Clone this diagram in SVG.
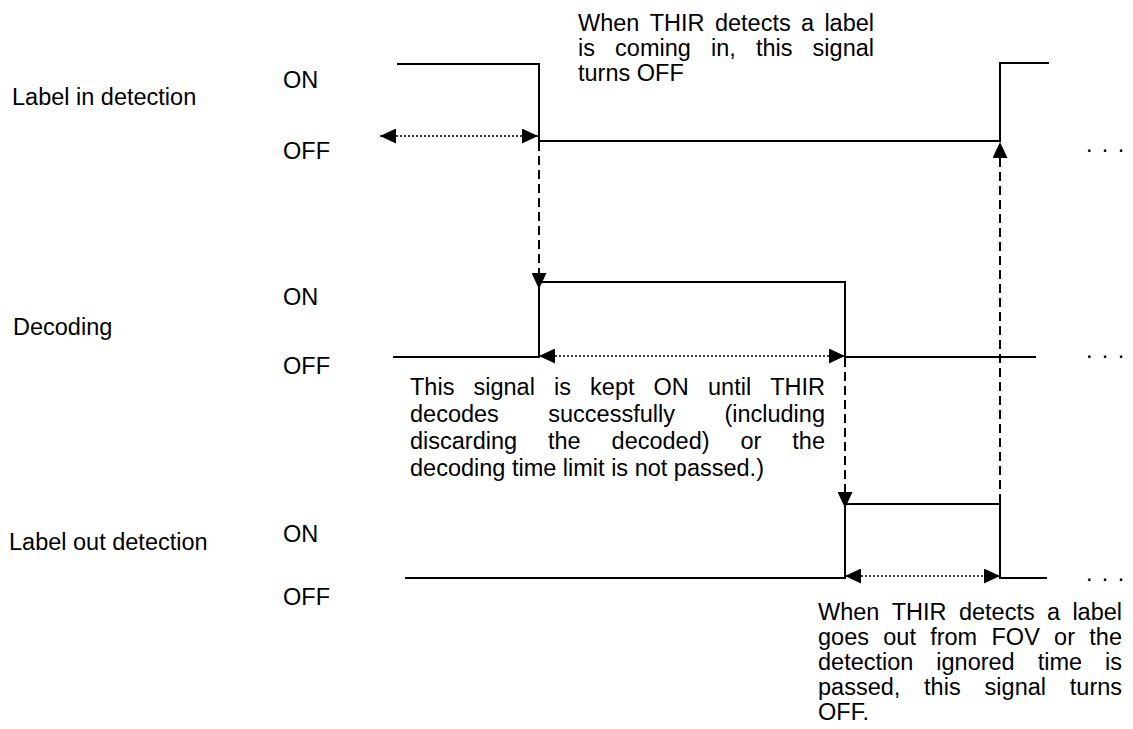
<svg xmlns="http://www.w3.org/2000/svg" width="1133" height="729" viewBox="0 0 1133 729">
<style>
text{font-family:"Liberation Sans",Arial,sans-serif;font-size:23.5px;fill:#000}
.sig{fill:none;stroke:#000;stroke-width:2}
.dash{fill:none;stroke:#000;stroke-width:2;stroke-dasharray:9 5}
.dot{fill:none;stroke:#000;stroke-width:1.5;stroke-dasharray:2 2}
.ell{letter-spacing:1.4px}
</style>
<defs>
<marker id="ah" markerUnits="userSpaceOnUse" markerWidth="16" markerHeight="15" refX="16" refY="7.5" orient="auto-start-reverse" viewBox="0 0 16 15">
<path d="M0,0 L16,7.5 L0,15 z" fill="#000"/>
</marker>
</defs>
<rect width="1133" height="729" fill="#fff"/>

<g id="label-in-detection">
<text x="12" y="105">Label in detection</text>
<text x="283" y="88">ON</text>
<text x="283" y="159">OFF</text>
<polyline class="sig" points="397,64 539,64 539,141 1000,141 1000,63 1049,63"/>
<text class="ell" x="1086" y="152">. . .</text>
</g>

<g id="decoding">
<text x="13" y="335">Decoding</text>
<text x="283" y="305">ON</text>
<text x="283" y="374">OFF</text>
<polyline class="sig" points="393,357 539,357 539,282 845,282 845,357 1036,357"/>
<text class="ell" x="1086" y="358">. . .</text>
</g>

<g id="label-out-detection">
<text x="9" y="550">Label out detection</text>
<text x="283" y="542">ON</text>
<text x="283" y="605">OFF</text>
<polyline class="sig" points="405,578 845,578 845,504 1000,504 1000,578 1047,578"/>
<text class="ell" x="1086" y="581">. . .</text>
</g>

<g id="note-in">
<text y="31"><tspan x="578">When</tspan><tspan x="649.7">THIR</tspan><tspan x="714.9">detects</tspan><tspan x="801">a</tspan><tspan x="824.4">label</tspan></text>
<text y="56"><tspan x="578">is</tspan><tspan x="615.1">coming</tspan><tspan x="711">in,</tspan><tspan x="755.9">this</tspan><tspan x="812.6">signal</tspan></text>
<text x="578" y="81">turns OFF</text>
</g>

<g id="note-decoding">
<text y="395"><tspan x="410">This</tspan><tspan x="473.5">signal</tspan><tspan x="554">is</tspan><tspan x="590.1">kept</tspan><tspan x="653.6">ON</tspan><tspan x="708">until</tspan><tspan x="770.2">THIR</tspan></text>
<text y="422"><tspan x="410">decodes</tspan><tspan x="548.3">successfully</tspan><tspan x="724.4">(including</tspan></text>
<text y="449"><tspan x="410">discarding</tspan><tspan x="548">the</tspan><tspan x="611.6">decoded)</tspan><tspan x="740.5">or</tspan><tspan x="792.3">the</tspan></text>
<text x="410" y="476">decoding time limit is not passed.)</text>
</g>

<g id="note-out">
<text y="620"><tspan x="818">When</tspan><tspan x="891.7">THIR</tspan><tspan x="958.9">detects</tspan><tspan x="1047">a</tspan><tspan x="1072.4">label</tspan></text>
<text y="645"><tspan x="818">goes</tspan><tspan x="883.3">out</tspan><tspan x="930.2">from</tspan><tspan x="991.5">FOV</tspan><tspan x="1054.1">or</tspan><tspan x="1089.3">the</tspan></text>
<text y="670"><tspan x="818">detection</tspan><tspan x="936.3">ignored</tspan><tspan x="1037.7">time</tspan><tspan x="1105">is</tspan></text>
<text y="695"><tspan x="818">passed,</tspan><tspan x="924.1">this</tspan><tspan x="984.6">signal</tspan><tspan x="1069.8">turns</tspan></text>
<text x="818" y="720">OFF.</text>
</g>

<g id="connectors">
<line class="dot" x1="380" y1="136" x2="538" y2="136" marker-start="url(#ah)" marker-end="url(#ah)"/>
<line class="dot" x1="539" y1="356" x2="845" y2="356" marker-start="url(#ah)" marker-end="url(#ah)"/>
<line class="dot" x1="845" y1="576" x2="1000" y2="576" marker-start="url(#ah)" marker-end="url(#ah)"/>
<line class="dash" x1="539" y1="142" x2="539" y2="289" marker-end="url(#ah)"/>
<line class="dash" x1="845" y1="358" x2="845" y2="508" marker-end="url(#ah)"/>
<line class="dash" x1="1000" y1="503" x2="1000" y2="142" marker-end="url(#ah)"/>
</g>
</svg>
